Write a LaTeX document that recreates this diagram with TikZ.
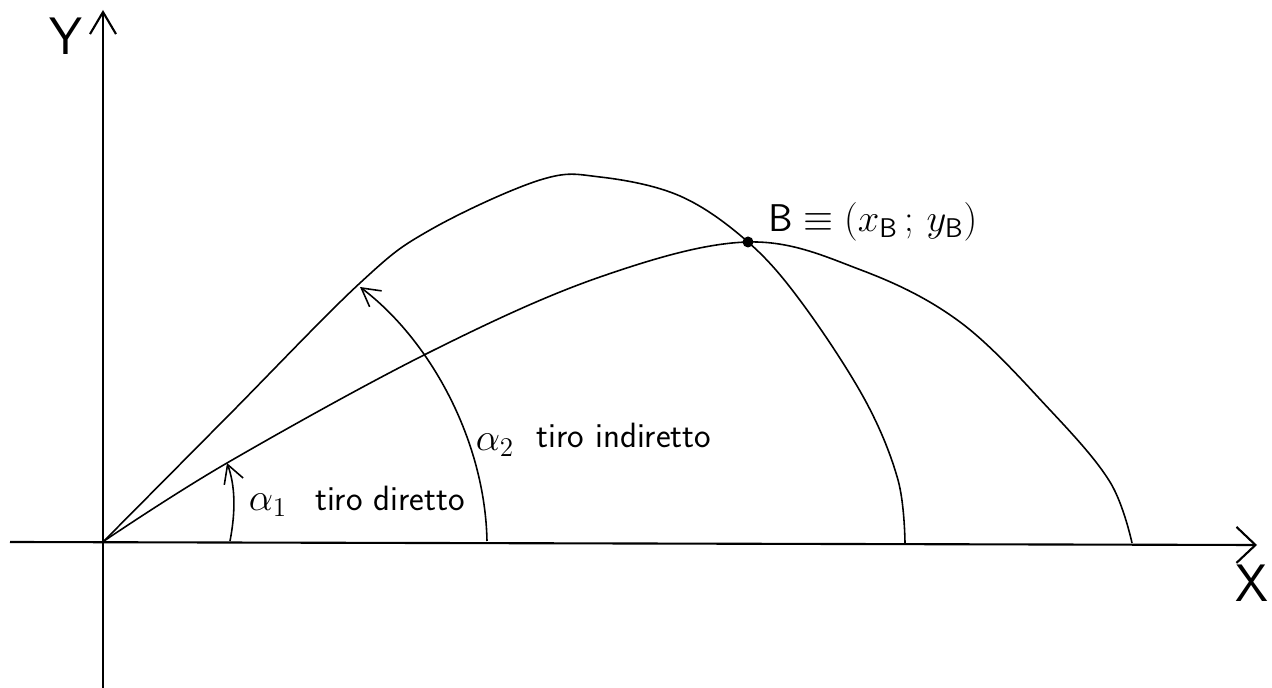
\RequirePackage{fix-cm}
\documentclass[tikz,border=0pt]{standalone}
\usetikzlibrary{arrows.meta}
\begin{document}
\begin{tikzpicture}[x=0.02cm,y=-0.02cm,
  axis/.style={line width=1.2pt},
  traj/.style={line width=0.9pt, line join=round},
  anglearc/.style={line width=0.9pt, -{Straight Barb[length=0.36cm,width=0.4cm,line width=0.9pt]}},
  lbl/.style={inner sep=0pt, font=\sffamily\fontsize{20}{24}\selectfont},
  mlbl/.style={inner sep=0pt, font=\fontsize{22}{26}\selectfont},
  axlbl/.style={inner sep=0pt, font=\sffamily\fontsize{30}{36}\selectfont}]
\useasboundingbox (0,0) rectangle (1272,688);
% axes
\coordinate (O) at (104,541);
\coordinate (Ytop) at (103,10);
\coordinate (Ybot) at (103,688);
\coordinate (Xl) at (10,542);
\coordinate (Xr) at (1257,545);
\draw[axis, -{Straight Barb[length=0.44cm,width=0.52cm,line width=1.2pt]}] (Ybot) -- (Ytop);
\draw[axis, -{Straight Barb[length=0.38cm,width=0.72cm,line width=1.2pt]}] (Xl) -- (Xr);
\node[axlbl] (Ylbl) at (66,36) {Y};
\node[axlbl] (Xlbl) at (1252,583) {X};
% trajectories
\draw[traj] plot[smooth, tension=0.6] coordinates {(104,541) (227,417) (360,283) (430,230) (540,180) (600,177) (680,196) (748,242) (802,303) (865,400) (898,480) (905,543)};
\draw[traj] plot[smooth, tension=0.6] coordinates {(104,541) (227,463) (430,352) (600,277) (748,242) (861,270) (960,322) (1050,410) (1110,482) (1132,543)};
% point B
\coordinate (B) at (748,242);
\fill (B) circle[radius=0.11cm];
\node[mlbl, anchor=west] (Blbl) at (768,222) {$\mathsf{B}\equiv\bigl(x_{\mathsf{B}}\,;\,y_{\mathsf{B}}\bigr)$};
% angle arcs
\coordinate (a1s) at (230,541);
\coordinate (a1e) at (227,463);
\draw[anglearc] (a1s) .. controls (236,510) and (235,485) .. (a1e);
\coordinate (a2s) at (487,541);
\coordinate (a2e) at (360,287);
\draw[anglearc] (a2s) .. controls (485,440) and (430,340) .. (a2e);
% labels
\node[mlbl] (al1) at (268,505) {$\alpha_1$};
\node[lbl] (t1) at (390,498) {tiro diretto};
\node[mlbl] (al2) at (495,445) {$\alpha_2$};
\node[lbl] (t2) at (624,435) {tiro indiretto};
\end{tikzpicture}
\end{document}
